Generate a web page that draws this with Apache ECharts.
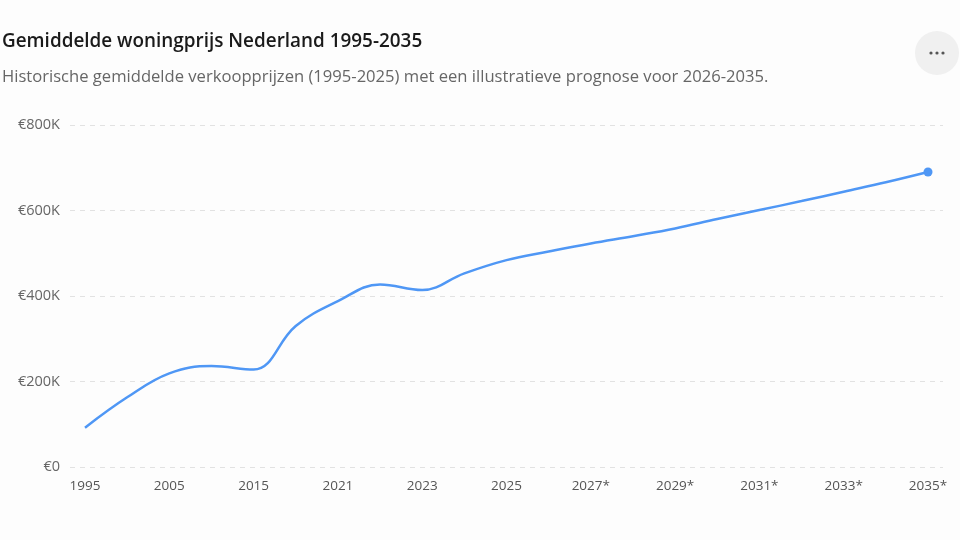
<!DOCTYPE html>
<html>
<head>
<meta charset="utf-8">
<script src="https://cdn.jsdelivr.net/npm/echarts@6/dist/echarts.min.js"></script>
<style>
  html, body { margin: 0; padding: 0; background: #fdfdfd; }
  #main { width: 960px; height: 540px; }
</style>
</head>
<body>
<div id="main"></div>
<script>
// jaren (categorieen), * = prognose
var years = ["1995","2000","2005","2010","2015","2020","2021","2022","2023","2024","2025",
  "2026*","2027*","2028*","2029*","2030*","2031*","2032*","2033*","2034*","2035*"];
// gemiddelde verkoopprijs in euro
var prices = [92000,163000,219000,236000,228000,330000,388000,427000,414000,453000,484000,
  504000,523000,540000,558000,580000,601000,622000,644000,666000,690000];
var yTicks = [0,200000,400000,600000,800000];

var myChart = echarts.init(document.getElementById('main'));

var seriesData = [];
for (var i = 0; i < prices.length; i++) {
  if (i == prices.length - 1) {
    seriesData.push({ value: prices[i], symbol: 'circle', symbolSize: 9 });
  } else {
    seriesData.push({ value: prices[i], symbol: 'none' });
  }
}

var euroK = function (v) {
  return v == 0 ? '€0' : '€' + (v / 1000) + 'K';
};

var options = {
  backgroundColor: '#fdfdfd',
  animation: false,
  title: [
    {
      text: 'Gemiddelde woningprijs Nederland 1995-2035',
      left: 2, top: 32, padding: 0,
      textStyle: { fontFamily: 'Open Sans', fontSize: 18.9, fontWeight: 600, color: '#1a1a1a' }
    },
    {
      text: 'Historische gemiddelde verkoopprijzen (1995-2025) met een illustratieve prognose voor 2026-2035.',
      left: 2, top: 69, padding: 0,
      textStyle: { fontFamily: 'Open Sans', fontSize: 16.6, fontWeight: 'normal', color: '#666' }
    }
  ],
  graphic: [
    { type: 'circle', shape: { cx: 937, cy: 53, r: 22 }, style: { fill: '#f0f0f0' } },
    { type: 'circle', shape: { cx: 931, cy: 53, r: 1.6 }, style: { fill: '#555' } },
    { type: 'circle', shape: { cx: 937, cy: 53, r: 1.6 }, style: { fill: '#555' } },
    { type: 'circle', shape: { cx: 943, cy: 53, r: 1.6 }, style: { fill: '#555' } }
  ],
  grid: [
    { left: 85, right: 32, top: 125, bottom: 73 },
    { left: 70, right: 17, top: 125, bottom: 73 }
  ],
  xAxis: [
    {
      type: 'category',
      gridIndex: 0,
      boundaryGap: false,
      data: years,
      axisLine: { show: false },
      axisTick: { show: false },
      axisLabel: {
        interval: 1,
        margin: 12,
        color: '#555',
        fontFamily: 'Open Sans',
        fontSize: 13.5
      }
    },
    { type: 'value', gridIndex: 1, show: false, min: 0, max: 1 }
  ],
  yAxis: [
    {
      type: 'value', gridIndex: 0, min: 0, max: 800000, interval: 200000,
      axisLine: { show: false }, axisTick: { show: false },
      axisLabel: { show: false }, splitLine: { show: false }
    },
    {
      type: 'value', gridIndex: 1, min: yTicks[0], max: yTicks[yTicks.length - 1], interval: 200000,
      axisLine: { show: false }, axisTick: { show: false },
      axisLabel: {
        margin: 10,
        color: '#666',
        fontFamily: 'Open Sans',
        fontSize: 14.5,
        formatter: euroK
      },
      splitLine: { lineStyle: { color: '#e2e2e2', type: [5, 5], width: 1 } }
    }
  ],
  series: [
    {
      name: 'Gemiddelde woningprijs',
      type: 'line',
      xAxisIndex: 0,
      yAxisIndex: 0,
      smooth: 0.4,
      showSymbol: true,
      symbol: 'none',
      lineStyle: { color: '#4f97f5', width: 2.5 },
      itemStyle: { color: '#4f97f5' },
      data: seriesData
    }
  ]
};

myChart.setOption(options);
</script>
</body>
</html>
